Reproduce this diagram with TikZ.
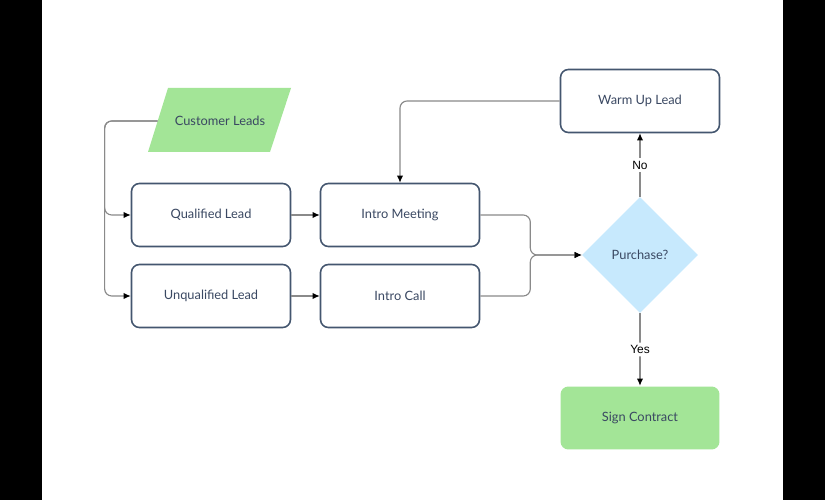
\documentclass[tikz,border=0pt]{standalone}
\usepackage{fontspec}
\setmainfont{Lato}
\newfontfamily\labelfont{Liberation Sans}
\usetikzlibrary{shapes.geometric,arrows.meta}
\definecolor{navy}{HTML}{44566F}
\definecolor{inktext}{HTML}{3A4862}
\definecolor{leafgreen}{HTML}{A3E597}
\definecolor{skyblue}{HTML}{C7E9FD}
\definecolor{wire}{HTML}{8A8A8A}
\tikzset{
  stepbox/.style={draw=navy, line width=0.9pt, fill=white, rounded corners=4.5pt,
    minimum width=3.18cm, minimum height=1.26cm, text=inktext, font=\fontsize{7.3}{8.5}\selectfont},
  donebox/.style={stepbox, draw=none, fill=leafgreen},
  choice/.style={diamond, fill=skyblue, minimum width=2.32cm, minimum height=2.32cm,
    inner sep=0pt, text=inktext, font=\fontsize{7.3}{8.5}\selectfont},
  conn/.style={draw=wire, line width=0.65pt, rounded corners=4pt, -{Latex[length=4pt,width=3.6pt,black]}},
  tag/.style={fill=white, inner sep=1.5pt, text=black, font=\labelfont\fontsize{6.8}{8}\selectfont}
}
\begin{document}
\begin{tikzpicture}[x=0.02cm, y=-0.02cm]
\useasboundingbox (0,0) rectangle (825,500);
\fill[black] (0,0) rectangle (825,500);
\fill[white] (42,0) rectangle (783,500);
% input
\fill[leafgreen] (168,88) -- (291,88) -- (270,152) -- (148,152) -- cycle;
\node[minimum width=2.48cm, minimum height=1.28cm, text=inktext, font=\fontsize{7.3}{8.5}\selectfont] (leads) at (220,121) {Customer Leads};
% steps
\node[stepbox] (ql) at (211,215) {Qualified Lead};
\node[stepbox] (uql) at (211,296) {Unqualified Lead};
\node[stepbox] (meet) at (400,215) {Intro Meeting};
\node[stepbox] (call) at (400,296) {Intro Call};
\node[stepbox] (warm) at (640,101) {Warm Up Lead};
\node[choice] (buy) at (640,255) {Purchase?};
\node[donebox] (sign) at (640,418) {Sign Contract};
% connectors
\draw[conn] (leads.west) -- ++(-53,0) |- (ql.west);
\draw[conn] (leads.west) -- ++(-53,0) |- (uql.west);
\draw[conn] (ql) -- (meet);
\draw[conn] (uql) -- (call);
\draw[conn] (meet.east) -- ++(50,0) |- (buy.west);
\draw[conn] (call.east) -- ++(50,0) |- (buy.west);
\draw[conn] (warm.west) -| (meet.north);
\draw[conn] (buy.north) -- node[tag] {No} (warm.south);
\draw[conn] (buy.south) -- node[tag] {Yes} (sign.north);
\end{tikzpicture}
\end{document}
